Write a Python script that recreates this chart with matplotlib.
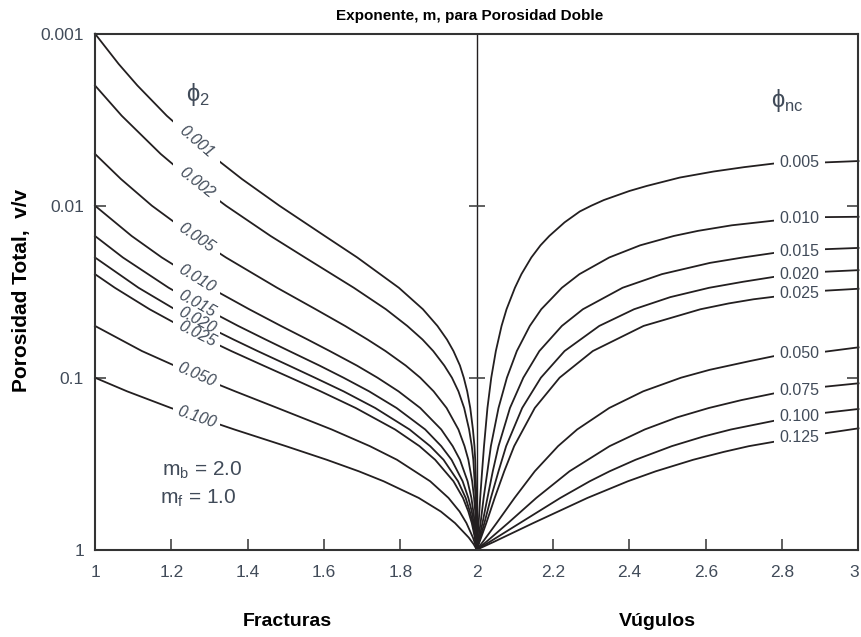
import numpy as np
import matplotlib
matplotlib.use('Agg')
import matplotlib.pyplot as plt
from matplotlib.patches import Rectangle
from matplotlib.ticker import NullLocator

plt.rcParams['font.family'] = ['Liberation Sans', 'DejaVu Sans']
plt.rcParams['mathtext.fontset'] = 'custom'
plt.rcParams['mathtext.rm'] = 'Liberation Sans'

# values: exponent m (x) vs total porosity v/v (y)
# fractures, one curve per phi_2
frac_names = ['0.001', '0.002', '0.005', '0.010', '0.015', '0.020', '0.025', '0.050', '0.100']

phi_f001 = [0.001, 0.0015, 0.002, 0.003, 0.005, 0.007, 0.01, 0.015, 0.02, 0.03, 0.04, 0.05, 0.06,
            0.07, 0.085, 0.1, 0.12, 0.15, 0.2, 0.25, 0.3, 0.5, 1.0]
m_f001 = [1.0, 1.062, 1.111, 1.188, 1.301, 1.385, 1.483, 1.602, 1.687, 1.796, 1.859, 1.897, 1.922,
          1.939, 1.956, 1.966, 1.975, 1.983, 1.990, 1.994, 1.996, 1.999, 2.0]

phi_f002 = [0.002, 0.003, 0.005, 0.007, 0.01, 0.015, 0.02, 0.03, 0.04, 0.05, 0.06, 0.07, 0.085,
            0.1, 0.12, 0.15, 0.2, 0.25, 0.3, 0.5, 1.0]
m_f002 = [1.0, 1.070, 1.172, 1.250, 1.343, 1.460, 1.550, 1.678, 1.762, 1.818, 1.858, 1.886, 1.915,
          1.935, 1.952, 1.967, 1.980, 1.987, 1.991, 1.997, 2.0]

phi_f005 = [0.005, 0.007, 0.01, 0.015, 0.02, 0.03, 0.04, 0.05, 0.06, 0.07, 0.085, 0.1, 0.12,
            0.15, 0.2, 0.25, 0.3, 0.4, 0.5, 0.6, 0.7, 1.0]
m_f005 = [1.0, 1.068, 1.149, 1.257, 1.343, 1.477, 1.578, 1.655, 1.714, 1.761, 1.814, 1.852, 1.887,
          1.921, 1.952, 1.968, 1.978, 1.988, 1.993, 1.996, 1.997, 2.0]

phi_f010 = [0.01, 0.015, 0.02, 0.03, 0.04, 0.05, 0.06, 0.07, 0.085, 0.1, 0.12, 0.15, 0.2, 0.25,
            0.3, 0.4, 0.5, 0.6, 0.7, 1.0]
m_f010 = [1.0, 1.096, 1.175, 1.302, 1.404, 1.487, 1.557, 1.615, 1.686, 1.740, 1.795, 1.852, 1.907,
          1.937, 1.956, 1.976, 1.986, 1.991, 1.995, 2.0]

phi_f015 = [0.015, 0.02, 0.03, 0.04, 0.05, 0.06, 0.07, 0.085, 0.1, 0.12, 0.15, 0.2, 0.25, 0.3,
            0.4, 0.5, 0.6, 0.7, 1.0]
m_f015 = [1.0, 1.073, 1.193, 1.292, 1.375, 1.447, 1.509, 1.588, 1.651, 1.718, 1.790, 1.865, 1.907,
          1.934, 1.963, 1.978, 1.987, 1.992, 2.0]

phi_f020 = [0.02, 0.03, 0.04, 0.05, 0.06, 0.07, 0.085, 0.1, 0.12, 0.15, 0.2, 0.25, 0.3, 0.4,
            0.5, 0.6, 0.7, 0.85, 1.0]
m_f020 = [1.0, 1.114, 1.209, 1.291, 1.363, 1.426, 1.508, 1.576, 1.651, 1.734, 1.824, 1.878, 1.913,
          1.951, 1.971, 1.982, 1.990, 1.996, 2.0]

phi_f025 = [0.025, 0.03, 0.04, 0.05, 0.06, 0.07, 0.085, 0.1, 0.12, 0.15, 0.2, 0.25, 0.3, 0.4,
            0.5, 0.6, 0.7, 0.85, 1.0]
m_f025 = [1.0, 1.052, 1.143, 1.223, 1.294, 1.357, 1.441, 1.512, 1.591, 1.683, 1.786, 1.850, 1.891,
          1.939, 1.964, 1.978, 1.987, 1.995, 2.0]

phi_f050 = [0.05, 0.07, 0.1, 0.12, 0.15, 0.2, 0.25, 0.3, 0.4, 0.5, 0.6, 0.7, 0.85, 0.93, 1.0]
m_f050 = [1.0, 1.123, 1.279, 1.367, 1.478, 1.620, 1.720, 1.791, 1.878, 1.926, 1.955, 1.973, 1.990,
          1.996, 2.0]

phi_f100 = [0.1, 0.12, 0.15, 0.2, 0.25, 0.3, 0.35, 0.4, 0.5, 0.6, 0.7, 0.85, 0.93, 1.0]
m_f100 = [1.0, 1.084, 1.199, 1.365, 1.500, 1.607, 1.691, 1.756, 1.848, 1.906, 1.943, 1.979, 1.992, 2.0]

# vugs, one curve per phi_nc
vug_names = ['0.005', '0.010', '0.015', '0.020', '0.025', '0.050', '0.075', '0.100', '0.125']

m_v005 = [2.0, 2.005, 2.009, 2.014, 2.019, 2.028, 2.038, 2.050, 2.065, 2.078, 2.100, 2.117, 2.143,
          2.167, 2.190, 2.23, 2.27, 2.30, 2.333, 2.40, 2.445, 2.532, 2.62, 2.70, 2.78, 2.912, 3.0]
phi_v005 = [1.0, 0.7, 0.5, 0.35, 0.25, 0.15, 0.1, 0.07, 0.05, 0.04, 0.03, 0.025, 0.02,
            0.017, 0.015, 0.0125, 0.0108, 0.0100, 0.00927, 0.00821, 0.00768, 0.00686, 0.00633,
            0.00597, 0.00568, 0.0056, 0.0055]

m_v010 = [2.0, 2.010, 2.018, 2.028, 2.037, 2.057, 2.079, 2.105, 2.139, 2.169, 2.223, 2.269, 2.347,
          2.428, 2.516, 2.58, 2.668, 2.78, 2.912, 3.0]
phi_v010 = [1.0, 0.7, 0.5, 0.35, 0.25, 0.15, 0.1, 0.07, 0.05, 0.04, 0.03, 0.025, 0.02,
            0.017, 0.015, 0.014, 0.013, 0.0122, 0.01165, 0.0116]

m_v015 = [2.0, 2.015, 2.028, 2.042, 2.057, 2.087, 2.122, 2.164, 2.223, 2.278, 2.382, 2.485, 2.611,
          2.697, 2.78, 2.912, 3.0]
phi_v015 = [1.0, 0.7, 0.5, 0.35, 0.25, 0.15, 0.1, 0.07, 0.05, 0.04, 0.03, 0.025, 0.0215,
            0.02, 0.0188, 0.0179, 0.0176]

m_v020 = [2.0, 2.020, 2.037, 2.057, 2.077, 2.119, 2.168, 2.230, 2.321, 2.412, 2.507, 2.609, 2.697,
          2.78, 2.912, 3.0]
phi_v020 = [1.0, 0.7, 0.5, 0.35, 0.25, 0.15, 0.1, 0.07, 0.05, 0.04, 0.034, 0.03, 0.0277,
            0.0259, 0.0242, 0.0237]

m_v025 = [2.0, 2.025, 2.047, 2.072, 2.098, 2.152, 2.217, 2.304, 2.437, 2.586, 2.660, 2.725, 2.78, 2.912, 3.0]
phi_v025 = [1.0, 0.7, 0.5, 0.35, 0.25, 0.15, 0.1, 0.07, 0.05, 0.04, 0.037, 0.035, 0.0338, 0.0312, 0.0304]

m_v050 = [2.0, 2.016, 2.052, 2.099, 2.152, 2.213, 2.263, 2.347, 2.436, 2.535, 2.610, 2.716, 2.78, 2.912, 3.0]
phi_v050 = [1.0, 0.9, 0.7, 0.5, 0.35, 0.25, 0.2, 0.15, 0.12, 0.1, 0.09, 0.08, 0.0748, 0.0706, 0.0666]

m_v075 = [2.0, 2.025, 2.082, 2.156, 2.243, 2.348, 2.440, 2.525, 2.608, 2.693, 2.78, 2.912, 3.0]
phi_v075 = [1.0, 0.9, 0.7, 0.5, 0.35, 0.25, 0.2, 0.17, 0.15, 0.135, 0.1232, 0.1128, 0.1078]

m_v100 = [2.0, 2.034, 2.113, 2.219, 2.296, 2.348, 2.416, 2.511, 2.593, 2.666, 2.78, 2.912, 3.0]
phi_v100 = [1.0, 0.9, 0.7, 0.5, 0.4, 0.35, 0.3, 0.25, 0.22, 0.2, 0.1778, 0.16, 0.152]

m_v125 = [2.0, 2.045, 2.148, 2.290, 2.396, 2.469, 2.567, 2.647, 2.713, 2.78, 2.912, 3.0]
phi_v125 = [1.0, 0.9, 0.7, 0.5, 0.4, 0.35, 0.3, 0.27, 0.25, 0.2355, 0.2106, 0.197]

x_ticks = [1, 1.2, 1.4, 1.6, 1.8, 2, 2.2, 2.4, 2.6, 2.8, 3]
x_ticklabels = ['1', '1.2', '1.4', '1.6', '1.8', '2', '2.2', '2.4', '2.6', '2.8', '3']
y_ticks = [0.001, 0.01, 0.1, 1]
y_ticklabels = ['0.001', '0.01', '0.1', '1']

frac_curves = list(zip(frac_names,
                       [m_f001, m_f002, m_f005, m_f010, m_f015, m_f020, m_f025, m_f050, m_f100],
                       [phi_f001, phi_f002, phi_f005, phi_f010, phi_f015, phi_f020, phi_f025, phi_f050, phi_f100]))
vug_curves = list(zip(vug_names,
                      [m_v005, m_v010, m_v015, m_v020, m_v025, m_v050, m_v075, m_v100, m_v125],
                      [phi_v005, phi_v010, phi_v015, phi_v020, phi_v025, phi_v050, phi_v075, phi_v100, phi_v125]))

ink = '#231f20'
txt = '#414b59'

fig = plt.figure(figsize=(8.62, 6.37), dpi=100)
ax = fig.add_axes([95 / 862, 1 - 549.7 / 637, 763.5 / 862, 516 / 637])
ax.set_yscale('log')
ax.set_xlim(1, 3)
ax.set_ylim(1, 0.001)

for s in ax.spines.values():
    s.set_linewidth(1.5)
    s.set_color('#333333')

ax.set_xticks(x_ticks)
ax.set_xticklabels(x_ticklabels)
ax.get_xticklabels()[-1].set_horizontalalignment('right')
ax.set_yticks(y_ticks)
ax.set_yticklabels(y_ticklabels)
ax.yaxis.set_minor_locator(NullLocator())
ax.tick_params(direction='in', length=8, width=1.2, color='#444444',
               labelcolor=txt, labelsize=12.5)
ax.tick_params(axis='y', right=True, pad=8)
ax.tick_params(axis='x', pad=11)

# centre line with cross ticks
ax.axvline(2, color=ink, lw=1.0)
ax.plot([2, 2], y_ticks[1:3], ls='none', marker='_', ms=12, mew=1.2, color='#444444')


def draw_gapped(m, phi, lo, hi):
    for x0, x1 in [(0.5, lo), (hi, 3.5)]:
        ln, = ax.plot(m, phi, color=ink, lw=1.3)
        ln.set_clip_path(Rectangle((x0, 1e-5), x1 - x0, 1e5, transform=ax.transData))


def log_at(m, phi, x):
    return np.interp(x, m, np.log10(phi))


# fractures: labels sit in a gap, rotated along the curve
f_lo, f_hi = 1.205, 1.328
for name, m, phi in frac_curves:
    draw_gapped(m, phi, f_lo, f_hi)
    y0 = 10 ** log_at(m, phi, f_lo)
    y1 = 10 ** log_at(m, phi, f_hi)
    p0, p1 = ax.transData.transform([(f_lo, y0), (f_hi, y1)])
    ang = np.degrees(np.arctan2(p1[1] - p0[1], p1[0] - p0[0]))
    ax.text((f_lo + f_hi) / 2, np.sqrt(y0 * y1), name, rotation=ang,
            rotation_mode='anchor', ha='center', va='center',
            style='italic', fontsize=11.5, color=txt)

# vugs: horizontal labels in a gap near the right edge
v_lo, v_hi = 2.779, 2.912
for name, m, phi in vug_curves:
    draw_gapped(m, phi, v_lo, v_hi)
    y0 = 10 ** log_at(m, phi, v_lo)
    y1 = 10 ** log_at(m, phi, v_hi)
    ax.text((v_lo + v_hi) / 2, np.sqrt(y0 * y1), name, ha='center', va='center',
            fontsize=11.5, color=txt)

ax.text(1.27, 0.00227, 'ϕ$_\\mathregular{2}$', fontsize=17, color=txt, ha='center', va='center')
ax.text(2.813, 0.00243, 'ϕ$_\\mathregular{nc}$', fontsize=17, color=txt, ha='center', va='center')
ax.text(1.175, 0.344, 'm$_\\mathregular{b}$ = 2.0', fontsize=15, color=txt, va='center')
ax.text(1.17, 0.50, 'm$_\\mathregular{f}$ = 1.0', fontsize=15, color=txt, va='center')

fig.text(470 / 862, 1 - 16 / 637, 'Exponente, m, para Porosidad Doble',
         ha='center', va='center', fontsize=11, fontweight='bold', color='black')
fig.text(22 / 862, 1 - 290 / 637, 'Porosidad Total,  v/v', rotation=90,
         ha='center', va='center', fontsize=15, fontweight='bold', color='black')
fig.text(287.5 / 862, 1 - 622 / 637, 'Fracturas', ha='center', va='center',
         fontsize=14, fontweight='bold', color='black')
fig.text(657 / 862, 1 - 622 / 637, 'Vúgulos', ha='center', va='center',
         fontsize=14, fontweight='bold', color='black')

fig.savefig('out.png', dpi=100)
